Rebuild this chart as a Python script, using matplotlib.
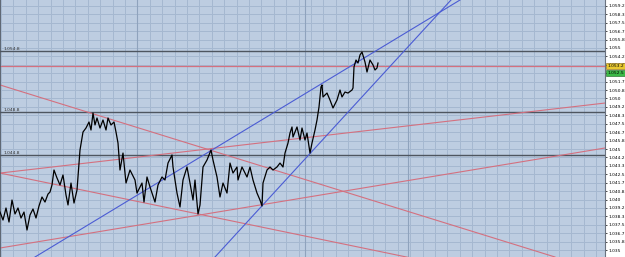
import matplotlib.pyplot as plt
import matplotlib.transforms as mtransforms
import numpy as np

# price path (bar index, close)
bars = [0, 3, 6, 9, 12, 15, 18, 21, 24, 27, 30, 33, 36, 39, 42, 45, 48, 50, 52, 54,
        57, 60, 63, 66, 68, 71, 74, 77, 80, 83, 86, 89, 91, 93, 95, 97, 100, 103, 106, 108,
        111, 114, 116, 118, 120, 123, 126, 130, 135, 137, 142, 144, 147, 150, 155, 158, 162, 165, 168, 172,
        173, 177, 180, 183, 187, 190, 193, 195, 198, 200, 203, 207, 211, 213, 217, 220, 223, 227, 230, 233,
        237, 238, 242, 247, 250, 253, 257, 260, 262, 263, 267, 270, 273, 277, 280, 283, 285, 288, 290, 292,
        293, 297, 300, 302, 305, 307, 310, 312, 315, 317, 319, 321, 322, 323, 327, 330, 333, 337, 340, 342,
        345, 348, 352, 353, 354, 356, 358, 360, 362, 365, 367, 370, 373, 375, 377, 378]
close = [1.03876, 1.03797, 1.03916, 1.03777, 1.03995, 1.03857, 1.03916, 1.03817, 1.03876, 1.03698,
         1.03847, 1.03906, 1.03817, 1.03936, 1.04025, 1.03975, 1.04054, 1.04074, 1.04144, 1.04292,
         1.04213, 1.04144, 1.04243, 1.04045, 1.03946, 1.04163, 1.03965, 1.04094, 1.04490, 1.04668,
         1.04708, 1.04767, 1.04688, 1.04856, 1.04738, 1.04807, 1.04708, 1.04787, 1.04688, 1.04807,
         1.04738, 1.04767, 1.04668, 1.04559, 1.04292, 1.04460, 1.04163, 1.04292, 1.04193, 1.04064,
         1.04163, 1.03975, 1.04223, 1.04124, 1.03975, 1.04144, 1.04223, 1.04193, 1.04361, 1.04441,
         1.04322, 1.04064, 1.03926, 1.04193, 1.04322, 1.04163, 1.03995, 1.04193, 1.03857, 1.03946,
         1.04322, 1.04391, 1.04490, 1.04391, 1.04223, 1.04025, 1.04163, 1.04064, 1.04361, 1.04262,
         1.04322, 1.04193, 1.04322, 1.04223, 1.04322, 1.04193, 1.04064, 1.03995, 1.03936, 1.04163,
         1.04292, 1.04322, 1.04292, 1.04322, 1.04361, 1.04322, 1.04460, 1.04559, 1.04658, 1.04718,
         1.04619, 1.04718, 1.04589, 1.04708, 1.04589, 1.04658, 1.04460, 1.04559, 1.04688, 1.04787,
         1.04916, 1.05114, 1.05134, 1.05015, 1.05054, 1.04985, 1.04906, 1.04985, 1.05084, 1.05015,
         1.05064, 1.05054, 1.05084, 1.05104, 1.05312, 1.05381, 1.05351, 1.05431, 1.05460, 1.05361,
         1.05262, 1.05381, 1.05332, 1.05282, 1.05302, 1.05351]

# trend lines: (bar0, price0, bar1, price1)
red_lines = [(0, 1.05134, 555, 1.03431),
             (0, 1.04262, 605, 1.03025),
             (0, 1.03520, 605, 1.04510),
             (0, 1.04262, 605, 1.04955)]
blue_lines = [(35, 1.03431, 460, 1.05975),
              (215, 1.03431, 451, 1.05975)]
red_level = 1.05322
levels = [1.05470, 1.04866, 1.04441]
level_labels = ['1.054.8', '1.048.8', '1.044.8']
last_price = '1.053.2'
bid_price = '1.052.5'

ticks = 1.035 + np.arange(0, 30) * 0.005 / 6


def fmt(p):
    v = p * 1000
    whole = int(np.floor(v + 1e-6))
    frac = int(round((v - whole) * 10))
    if frac == 10:
        whole, frac = whole + 1, 0
    s = f'{whole / 1000:.3f}'
    return s if frac == 0 else f'{s}.{frac}'


fig = plt.figure(figsize=(6.25, 2.57), dpi=100)
fig.patch.set_facecolor('white')
ax = fig.add_axes([0, 0, 605 / 625, 1])
ax.set_facecolor('#bdcde1')
ax.set_xlim(0, 605)
ax.set_ylim(1.03431, 1.05975)

# grid
for t in ticks:
    ax.axhline(t, color='#a5b8d0', lw=0.7, zorder=0)
for gx in np.arange(1, 605, 12.4):
    ax.axvline(gx, color='#a5b8d0', lw=0.7, zorder=0)
for gx in [137, 305, 408]:
    ax.axvline(gx, color='#8fa3bd', lw=0.8, zorder=0)

for p, lab in zip(levels, level_labels):
    ax.axhline(p, color='#4e5660', lw=1.0, zorder=1)
    ax.text(4, p, lab, fontsize=3.2, color='#303030', va='bottom', ha='left')

ax.axhline(red_level, color='#d4707f', lw=0.9, zorder=2)
for x0, y0, x1, y1 in red_lines:
    ax.plot([x0, x1], [y0, y1], color='#d4707f', lw=0.8, zorder=2)
for x0, y0, x1, y1 in blue_lines:
    ax.plot([x0, x1], [y0, y1], color='#4b5cd4', lw=0.8, zorder=2)

ax.plot(bars, close, color='black', lw=0.9, zorder=3)

ax.set_xticks([])
ax.yaxis.tick_right()
ax.set_yticks(ticks)
ax.set_yticklabels([fmt(t) for t in ticks])
ax.tick_params(axis='y', labelsize=3.2, length=1.5, width=0.5, pad=1, colors='black')
for side in ['top', 'bottom']:
    ax.spines[side].set_visible(False)
ax.spines['left'].set_color('#4e5660')
ax.spines['left'].set_linewidth(1.2)
ax.spines['right'].set_color('#6a7280')

trans = mtransforms.blended_transform_factory(ax.transAxes, ax.transData)
ax.text(1.004, red_level, last_price, transform=trans, fontsize=3.2, va='center', ha='left',
        bbox=dict(boxstyle='square,pad=0.25', fc='#e8c830', ec='#806010', lw=0.4), clip_on=False, zorder=5)
ax.text(1.004, 1.05250, bid_price, transform=trans, fontsize=3.2, va='center', ha='left',
        bbox=dict(boxstyle='square,pad=0.25', fc='#3cba48', ec='#1a6020', lw=0.4), clip_on=False, zorder=5)

fig.savefig('out.png', dpi=100, facecolor='white')
